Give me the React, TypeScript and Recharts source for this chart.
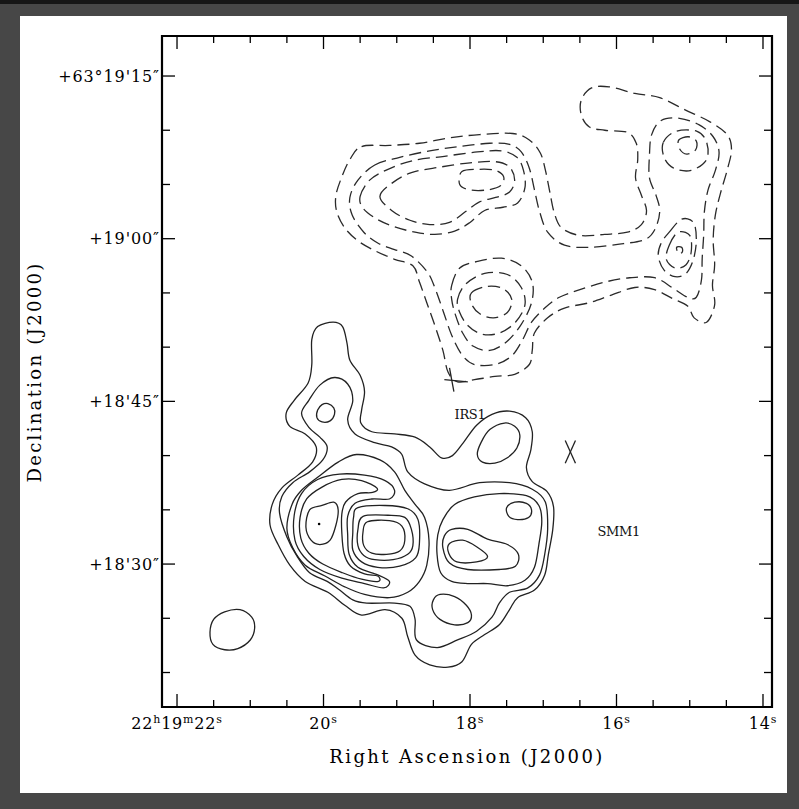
import React from "react";
import { ComposedChart, Line, Scatter, XAxis, YAxis, ReferenceArea } from "recharts";

type Pt = [number, number];

// x: RA seconds after 22h19m, y: Dec arcsec after +63°18'
const raDomain: [number, number] = [13.877, 22.205];
const decDomain: [number, number] = [16.82, 78.69];

const raMajor = [22, 20, 18, 16, 14];
const raMinor = [21.5, 21, 20.5, 19.5, 19, 18.5, 17.5, 17, 16.5, 15.5, 15, 14.5];
const raLabels: [string, string][][] = [
  [["22", "h"], ["19", "m"], ["22", "s"]],
  [["20", "s"]],
  [["18", "s"]],
  [["16", "s"]],
  [["14", "s"]],
];
const decMajor = [75, 60, 45, 30];
const decMinor = [70, 65, 55, 50, 40, 35, 25, 20];
const decLabels = ["+63°19'15″", "+19'00″", "+18'45″", "+18'30″"];

// solid contours
const solidOuter: Pt[] = [[19.87,52.3],[19.74,51.9],[19.68,50.4],[19.64,48.8],[19.50,47.4],[19.44,45.9],[19.48,44.2],[19.49,43.0],[19.34,42.2],[19.03,42.0],[18.75,41.7],[18.55,40.8],[18.39,39.8],[18.24,40.0],[18.09,41.2],[17.91,42.8],[17.70,43.8],[17.46,44.1],[17.24,43.5],[17.15,42.2],[17.17,40.5],[17.23,38.9],[17.15,37.6],[16.95,36.7],[16.86,35.3],[16.87,33.2],[16.93,30.9],[16.98,29.0],[17.12,27.6],[17.35,26.9],[17.46,25.8],[17.60,24.4],[17.80,23.5],[17.98,22.6],[18.11,21.0],[18.30,20.5],[18.55,20.7],[18.75,21.6],[18.85,23.3],[18.93,25.0],[19.16,25.8],[19.48,25.3],[19.71,26.2],[19.94,27.4],[20.25,28.4],[20.46,29.9],[20.62,31.8],[20.73,33.6],[20.70,35.5],[20.57,37.0],[20.35,38.2],[20.15,39.4],[20.10,40.8],[20.25,42.0],[20.46,42.7],[20.51,43.9],[20.40,45.1],[20.21,46.7],[20.16,48.4],[20.16,50.7],[20.08,51.9]];
const solidSecond: Pt[] = [[19.85,47.2],[19.67,46.6],[19.60,45.1],[19.67,43.3],[19.57,42.0],[19.30,41.2],[19.07,40.8],[18.93,40.1],[18.85,38.5],[18.62,37.4],[18.28,36.8],[17.87,37.5],[17.46,37.5],[17.15,36.9],[16.97,35.7],[16.94,33.2],[16.98,30.9],[17.05,29.0],[17.21,27.8],[17.46,27.4],[17.60,26.4],[17.70,25.1],[17.91,23.8],[18.17,23.0],[18.45,22.3],[18.73,23.0],[18.75,24.9],[18.82,26.1],[19.03,26.4],[19.41,26.4],[19.60,26.7],[19.78,27.6],[19.95,28.4],[20.19,29.2],[20.36,30.7],[20.50,32.5],[20.60,34.7],[20.57,36.2],[20.42,37.5],[20.19,38.5],[20.01,39.6],[19.95,40.8],[20.05,41.7],[20.20,42.6],[20.30,43.9],[20.20,45.1],[20.05,46.5]];
const irsBump: Pt[] = [[17.53,43.0],[17.39,42.7],[17.32,41.9],[17.36,40.7],[17.49,39.8],[17.66,39.3],[17.83,39.4],[17.90,40.1],[17.85,41.2],[17.73,42.4]];
const northKnot: Pt[] = [[19.94,44.8],[19.86,44.4],[19.85,43.8],[19.91,43.2],[20.02,43.1],[20.09,43.5],[20.08,44.2],[20.02,44.7]];
const solidThird: Pt[] = [[20.43,35.5],[20.30,36.8],[20.08,38.0],[19.80,39.4],[19.55,40.1],[19.23,39.6],[19.03,38.5],[18.89,36.8],[18.75,35.5],[18.62,34.3],[18.56,32.2],[18.59,29.9],[18.69,28.4],[18.85,27.4],[19.10,26.9],[19.44,27.2],[19.71,27.9],[19.98,28.9],[20.25,29.9],[20.42,31.5],[20.50,33.3]];
const westFourth: Pt[] = [[19.03,36.8],[19.16,37.7],[19.44,38.2],[19.78,38.3],[20.08,37.8],[20.30,36.5],[20.40,34.5],[20.39,32.2],[20.27,30.7],[20.05,29.5],[19.75,28.7],[19.44,28.2],[19.18,27.8],[19.10,28.4],[19.26,29.0],[19.53,29.7],[19.65,30.9],[19.67,32.7],[19.67,34.4],[19.57,35.6],[19.34,36.0],[19.10,36.0]];
const westFifth: Pt[] = [[19.27,37.0],[19.48,37.7],[19.75,37.8],[20.02,37.1],[20.23,36.0],[20.32,34.3],[20.31,32.4],[20.20,31.0],[20.01,30.0],[19.74,29.2],[19.48,28.6],[19.25,28.4],[19.26,28.9],[19.44,29.1],[19.63,29.8],[19.72,31.0],[19.75,32.9],[19.75,34.6],[19.70,35.7],[19.53,36.5],[19.33,36.6]];
const westCore: Pt[] = [[20.19,35.0],[20.02,35.4],[19.86,35.7],[19.80,35.0],[19.83,33.6],[19.91,32.2],[20.05,31.8],[20.17,32.2],[20.24,33.4]];
const midFourth: Pt[] = [[19.53,35.2],[19.16,35.4],[18.85,35.1],[18.71,34.1],[18.69,32.0],[18.74,30.6],[18.96,29.8],[19.26,29.7],[19.48,30.2],[19.60,31.3],[19.60,32.9],[19.59,34.3]];
const midFifth: Pt[] = [[19.46,34.4],[19.12,34.5],[18.89,34.3],[18.80,33.2],[18.78,31.7],[18.85,30.9],[19.05,30.4],[19.30,30.4],[19.45,30.8],[19.53,31.7],[19.53,33.2]];
const midCore: Pt[] = [[19.40,33.9],[19.10,34.0],[18.93,33.5],[18.89,32.2],[18.96,31.2],[19.14,30.9],[19.34,31.0],[19.45,31.7],[19.46,33.0]];
const eastThird: Pt[] = [[18.37,34.1],[18.21,35.5],[17.94,36.2],[17.60,36.5],[17.23,36.3],[17.06,35.4],[17.02,33.9],[17.06,31.8],[17.12,29.7],[17.25,28.5],[17.49,28.0],[17.76,28.2],[18.03,28.2],[18.25,28.4],[18.40,29.2],[18.45,30.9],[18.44,32.7]];
const eastKnot: Pt[] = [[17.39,35.7],[17.23,35.6],[17.16,35.0],[17.20,34.3],[17.35,34.1],[17.47,34.4],[17.50,35.2]];
const eastFourth: Pt[] = [[18.25,33.2],[18.03,33.2],[17.76,32.3],[17.49,31.8],[17.34,30.9],[17.38,29.8],[17.60,29.5],[18.03,29.5],[18.28,30.1],[18.37,31.5],[18.35,32.6]];
const eastCore: Pt[] = [[18.28,31.9],[18.10,32.2],[17.91,31.6],[17.76,30.7],[17.91,30.2],[18.18,30.2],[18.29,31.0]];
const southKnot: Pt[] = [[18.41,27.2],[18.21,27.0],[18.05,26.2],[17.98,25.3],[18.03,24.6],[18.21,24.4],[18.41,24.9],[18.51,25.8],[18.50,26.7]];
const beam: Pt[] = [[21.14,25.8],[20.98,25.1],[20.94,24.1],[21.00,23.0],[21.17,22.2],[21.35,22.1],[21.51,22.6],[21.55,23.7],[21.50,24.9],[21.35,25.6]];

// dashed contours
const dashOuter: Pt[] = [[19.48,68.5],[19.10,68.6],[18.69,68.8],[18.28,69.3],[17.87,69.6],[17.42,69.7],[17.19,69.1],[17.04,67.9],[16.97,66.3],[16.91,64.3],[16.85,62.4],[16.75,61.0],[16.50,60.3],[16.16,60.4],[15.85,60.6],[15.66,61.3],[15.59,62.6],[15.66,64.0],[15.74,65.6],[15.71,67.3],[15.73,68.8],[15.85,69.8],[16.16,70.0],[16.37,70.3],[16.48,71.4],[16.48,72.8],[16.34,73.9],[16.10,74.0],[15.75,73.4],[15.41,73.0],[15.07,71.9],[14.73,70.8],[14.49,69.6],[14.43,68.2],[14.49,66.3],[14.58,64.2],[14.65,62.2],[14.68,59.9],[14.66,57.6],[14.69,55.7],[14.66,53.9],[14.77,52.3],[14.94,52.7],[15.03,53.8],[15.24,54.5],[15.48,55.3],[15.75,55.5],[16.07,54.8],[16.37,54.1],[16.71,53.6],[16.94,52.7],[17.12,51.3],[17.15,49.7],[17.19,48.4],[17.39,47.5],[17.66,47.3],[17.94,47.0],[18.17,46.8],[18.30,47.7],[18.37,49.7],[18.48,52.0],[18.59,54.1],[18.69,56.0],[18.78,57.5],[19.03,58.1],[19.30,58.9],[19.53,59.8],[19.71,61.0],[19.82,62.5],[19.83,64.0],[19.75,65.7],[19.64,67.3]];
const dashSecond: Pt[] = [[19.30,66.8],[18.96,67.5],[18.55,68.1],[18.14,68.5],[17.73,68.8],[17.46,68.7],[17.30,68.0],[17.19,66.5],[17.12,64.5],[17.05,62.5],[16.94,60.6],[16.71,59.4],[16.37,59.2],[15.96,59.5],[15.62,59.9],[15.48,60.8],[15.41,62.5],[15.46,64.0],[15.55,65.6],[15.55,67.7],[15.52,69.6],[15.39,70.9],[15.14,71.1],[14.87,70.5],[14.68,69.4],[14.60,68.0],[14.65,66.3],[14.75,64.5],[14.80,62.5],[14.81,60.3],[14.83,58.2],[14.84,56.2],[14.91,54.6],[15.03,54.6],[15.22,55.4],[15.48,56.4],[15.82,56.4],[16.16,56.0],[16.50,55.3],[16.78,54.6],[16.98,53.6],[17.16,52.3],[17.28,50.7],[17.43,49.2],[17.66,48.4],[17.94,48.4],[18.11,49.3],[18.25,51.1],[18.36,53.2],[18.47,55.3],[18.58,56.9],[18.80,58.4],[19.03,59.0],[19.26,59.6],[19.45,60.6],[19.61,62.2],[19.64,63.8],[19.53,65.4]];
const dashWest3: Pt[] = [[19.50,63.9],[19.37,65.4],[19.12,66.4],[18.78,67.2],[18.35,67.6],[17.90,68.0],[17.57,68.1],[17.36,67.5],[17.27,66.3],[17.25,64.7],[17.35,63.3],[17.55,62.9],[17.80,62.6],[18.00,61.5],[18.21,60.7],[18.48,60.4],[18.75,60.6],[19.03,61.1],[19.27,61.8],[19.46,62.8]];
const dashWest4: Pt[] = [[19.23,63.9],[19.07,65.1],[18.80,66.1],[18.41,66.6],[18.00,67.0],[17.65,67.1],[17.46,66.6],[17.39,65.4],[17.46,64.3],[17.65,63.8],[17.87,63.4],[18.06,62.5],[18.28,61.5],[18.55,61.3],[18.82,61.7],[19.07,62.6]];
const dashWest5: Pt[] = [[18.11,66.2],[17.87,66.4],[17.65,66.3],[17.54,65.7],[17.58,64.9],[17.76,64.5],[18.00,64.5],[18.14,65.0]];
const dashLow3: Pt[] = [[18.25,55.7],[18.14,57.3],[17.90,57.9],[17.57,58.2],[17.30,57.5],[17.15,56.0],[17.16,54.1],[17.30,52.1],[17.50,50.5],[17.73,49.7],[17.96,50.1],[18.10,51.3],[18.20,53.0],[18.25,54.4]];
const dashLow4: Pt[] = [[18.17,54.4],[18.06,55.8],[17.80,56.8],[17.49,56.7],[17.30,55.5],[17.25,53.9],[17.38,52.3],[17.60,51.3],[17.84,51.2],[18.03,52.0],[18.14,53.2]];
const dashLow5: Pt[] = [[17.98,55.0],[17.77,55.6],[17.55,55.4],[17.43,54.4],[17.49,53.2],[17.68,52.7],[17.87,53.1],[17.98,54.0]];
const dashNE3: Pt[] = [[15.36,68.9],[15.19,69.9],[14.90,69.9],[14.77,68.9],[14.77,67.3],[14.98,66.3],[15.22,66.5],[15.35,67.5]];
const dashNE4: Pt[] = [[15.15,69.1],[15.02,69.4],[14.91,69.0],[14.92,68.2],[15.04,67.8],[15.14,68.3]];
const dashSE3: Pt[] = [[15.28,60.6],[15.11,61.8],[14.95,61.5],[14.91,59.9],[14.95,58.1],[15.05,56.8],[15.20,56.5],[15.35,57.1],[15.43,58.4],[15.39,59.6]];
const dashSE4: Pt[] = [[15.28,59.4],[15.16,60.6],[15.00,60.3],[14.98,58.8],[15.05,57.6],[15.20,57.3],[15.32,58.1]];
const dashSE5: Pt[] = [[15.18,59.2],[15.11,59.2],[15.10,58.8],[15.15,58.6]];

// markers
const irsCrossV: Pt[] = [[18.28, 48.1], [18.22, 45.9]];
const irsCrossH: Pt[] = [[18.35, 47.0], [18.03, 46.8]];
const smmCrossA: Pt[] = [[16.70, 41.4], [16.56, 39.3]];
const smmCrossB: Pt[] = [[16.56, 41.4], [16.70, 39.3]];
const sourceLabels = [
  { x: 18.0, y: 43.8, name: "IRS1" },
  { x: 15.97, y: 33.0, name: "SMM1" },
];
const peakDot = [{ x: 20.06, y: 33.7 }];

const solidContours = [solidOuter, solidSecond, irsBump, northKnot, solidThird, westFourth, westFifth, westCore, midFourth, midFifth, midCore, eastThird, eastKnot, eastFourth, eastCore, southKnot];
const dashedContours = [dashOuter, dashSecond, dashWest3, dashWest4, dashWest5, dashLow3, dashLow4, dashLow5, dashNE3, dashNE4, dashSE3, dashSE4, dashSE5];
const markerLines = [irsCrossV, irsCrossH, smmCrossA, smmCrossB];

const rows = (c: Pt[]) => c.map(([x, y]) => ({ x, y }));
const FONT = "'DejaVu Serif', 'Liberation Serif', serif";

// closed catmull-rom so the curve passes through every traced point
function closedSmooth(context: any) {
  let pts: number[][] = [];
  return {
    areaStart() {},
    areaEnd() {},
    lineStart() { pts = []; },
    point(x: number, y: number) { pts.push([x, y]); },
    lineEnd() {
      const n = pts.length;
      if (n < 3) return;
      context.moveTo(pts[0][0], pts[0][1]);
      for (let i = 0; i < n; i++) {
        const p0 = pts[(i - 1 + n) % n], p1 = pts[i], p2 = pts[(i + 1) % n], p3 = pts[(i + 2) % n];
        context.bezierCurveTo(
          p1[0] + (p2[0] - p0[0]) / 6, p1[1] + (p2[1] - p0[1]) / 6,
          p2[0] - (p3[0] - p1[0]) / 6, p2[1] - (p3[1] - p1[1]) / 6,
          p2[0], p2[1]
        );
      }
      context.closePath();
    },
  };
}

const raTicks = [...raMajor, ...raMinor].sort((a, b) => b - a);
const decTicks = [...decMajor, ...decMinor].sort((a, b) => b - a);

function BottomTick(props: any) {
  const { x, y, payload } = props;
  const i = raMajor.indexOf(payload.value);
  return (
    <g>
      <line x1={x} y1={y} x2={x} y2={y - (i >= 0 ? 13 : 7)} stroke="#000" strokeWidth={1.3} />
      {i >= 0 && (
        <text x={x} y={y + 22} textAnchor="middle" fontFamily={FONT} fontSize={16} fill="#000" letterSpacing={0.8}>
          {raLabels[i].map(([base, sup], k) => (
            <React.Fragment key={k}>
              <tspan dy={k === 0 ? 0 : 6}>{base}</tspan>
              <tspan dy={-6} fontSize={11}>{sup}</tspan>
            </React.Fragment>
          ))}
        </text>
      )}
    </g>
  );
}

function TopTick(props: any) {
  const { x, y, payload } = props;
  const major = raMajor.includes(payload.value);
  return <line x1={x} y1={y} x2={x} y2={y + (major ? 13 : 7)} stroke="#000" strokeWidth={1.3} />;
}

function LeftTick(props: any) {
  const { x, y, payload } = props;
  const i = decMajor.indexOf(payload.value);
  return (
    <g>
      <line x1={x} y1={y} x2={x + (i >= 0 ? 13 : 8)} y2={y} stroke="#000" strokeWidth={1.3} />
      {i >= 0 && (
        <text x={x - 2} y={y} dy="0.36em" textAnchor="end" fontFamily={FONT} fontSize={16} fill="#000" letterSpacing={0.9}>
          {decLabels[i]}
        </text>
      )}
    </g>
  );
}

function RightTick(props: any) {
  const { x, y, payload } = props;
  const major = decMajor.includes(payload.value);
  return <line x1={x} y1={y} x2={x - (major ? 13 : 8)} y2={y} stroke="#000" strokeWidth={1.3} />;
}

function NameLabel(props: any) {
  const { cx, cy, payload } = props;
  return (
    <text x={cx} y={cy} dy="0.36em" textAnchor="middle" fontFamily={FONT} fontSize={13} fill="#111" letterSpacing={-0.3}>
      {payload.name}
    </text>
  );
}

function Dot(props: any) {
  return <circle cx={props.cx} cy={props.cy} r={1.3} fill="#000" />;
}

export default function App() {
  return (
    <div style={{ position: "absolute", left: 0, top: 0, width: 799, height: 809, background: "#474747", overflow: "hidden" }}>
      <div style={{ position: "absolute", left: 0, top: 0, width: 799, height: 4, background: "#161616" }} />
      <div style={{ position: "absolute", left: 20, top: 16, width: 767, height: 777, background: "#ffffff" }} />
      <div style={{ position: "absolute", left: 0, top: 0 }}>
        <ComposedChart width={799} height={809} margin={{ top: 26, right: 17, bottom: 62, left: 62 }}>
          <XAxis xAxisId="b" type="number" dataKey="x" domain={raDomain} reversed allowDataOverflow
            ticks={raTicks} interval={0} tick={BottomTick} tickLine={false} axisLine={false}
            tickSize={0} tickMargin={0} height={40} />
          <XAxis xAxisId="t" orientation="top" type="number" dataKey="x" domain={raDomain} reversed allowDataOverflow
            ticks={raTicks} interval={0} tick={TopTick} tickLine={false} axisLine={false}
            tickSize={0} tickMargin={0} height={10} />
          <YAxis yAxisId="l" type="number" dataKey="y" domain={decDomain} allowDataOverflow
            ticks={decTicks} interval={0} tick={LeftTick} tickLine={false} axisLine={false}
            tickSize={0} tickMargin={0} width={100} />
          <YAxis yAxisId="r" orientation="right" type="number" dataKey="y" domain={decDomain} allowDataOverflow
            ticks={decTicks} interval={0} tick={RightTick} tickLine={false} axisLine={false}
            tickSize={0} tickMargin={0} width={10} />
          <ReferenceArea xAxisId="b" yAxisId="l" x1={raDomain[1]} x2={raDomain[0]} y1={decDomain[0]} y2={decDomain[1]}
            fill="none" stroke="#000" strokeWidth={2.2} ifOverflow="visible" />
          {solidContours.map((c, i) => (
            <Line key={`s${i}`} xAxisId="b" yAxisId="l" data={rows(c)} dataKey="y" type={closedSmooth as any}
              stroke="#222" strokeWidth={1.3} dot={false} activeDot={false} isAnimationActive={false} />
          ))}
          <Line xAxisId="t" yAxisId="r" data={rows(beam)} dataKey="y" type={closedSmooth as any}
            stroke="#222" strokeWidth={1.3} dot={false} activeDot={false} isAnimationActive={false} />
          {dashedContours.map((c, i) => (
            <Line key={`d${i}`} xAxisId="b" yAxisId="l" data={rows(c)} dataKey="y" type={closedSmooth as any}
              stroke="#2a2a2a" strokeWidth={1.3} strokeDasharray="12 6" dot={false} activeDot={false} isAnimationActive={false} />
          ))}
          {markerLines.map((c, i) => (
            <Line key={`m${i}`} xAxisId="b" yAxisId="l" data={rows(c)} dataKey="y" type="linear"
              stroke="#222" strokeWidth={1.3} dot={false} activeDot={false} isAnimationActive={false} />
          ))}
          <Scatter xAxisId="b" yAxisId="l" data={sourceLabels} shape={NameLabel} isAnimationActive={false} />
          <Scatter xAxisId="b" yAxisId="l" data={peakDot} shape={Dot} isAnimationActive={false} />
        </ComposedChart>
      </div>
      <svg width={799} height={809} style={{ position: "absolute", left: 0, top: 0, pointerEvents: "none" }}>
        <text x={467} y={763} textAnchor="middle" fontFamily={FONT} fontSize={18} letterSpacing={2.4} fill="#000">
          Right Ascension (J2000)
        </text>
        <text x={41} y={372} textAnchor="middle" fontFamily={FONT} fontSize={18} letterSpacing={2.3} fill="#000"
          transform="rotate(-90 41 372)">
          Declination (J2000)
        </text>
      </svg>
    </div>
  );
}
